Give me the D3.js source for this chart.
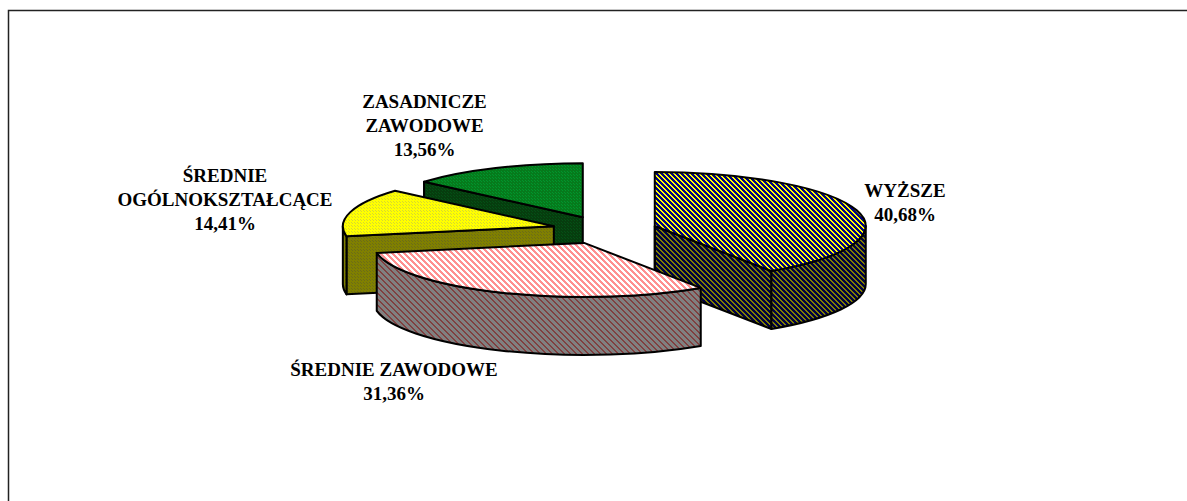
<!DOCTYPE html>
<html><head><meta charset="utf-8">
<script src="https://cdn.jsdelivr.net/npm/d3@7"></script>
<style>html,body{margin:0;background:#fff}svg{display:block}text{font-family:"Liberation Serif",serif;font-weight:bold;font-size:19px;fill:#000}</style>
</head><body><div id="c"></div>
<script>
const categories = ["WYŻSZE","ŚREDNIE ZAWODOWE","ŚREDNIE OGÓLNOKSZTAŁCĄCE","ZASADNICZE ZAWODOWE"];
const values = [40.68,31.36,14.41,13.56];
const labelLines = [["WYŻSZE"],["ŚREDNIE ZAWODOWE"],["ŚREDNIE","OGÓLNOKSZTAŁCĄCE"],["ZASADNICZE","ZAWODOWE"]];
const labelAnchors = [[905,191],[394,370],[225,176],[424.5,102]];
const topColors = [["#000080","#ffff00"],["#ffffff","#ff9090"],["#ffff00","#d8d830"],["#067a1c","#00962e"]];
const sideColors = [["#000040","#808000"],["#808080","#804040"],["#808000","#6c6c18"],["#063d0e","#045016"]];
const stripePeriods = [5,6,0,0];
const topStripeWidths = [2,3,0,0];
const sideStripeWidths = [2,2,0,0];

const W=1187,H=501,cx=604.5,cy=230,rx=211,ry=54,depth=58,explodeX=52.5,explodeY=14,lh=24;
const svg=d3.select("#c").append("svg").attr("width",W).attr("height",H);
const defs=svg.append("defs");
function pat(id,[a,b],period,sw){
  const s=period||3;
  const p=defs.append("pattern").attr("id",id).attr("patternUnits","userSpaceOnUse").attr("width",s).attr("height",s);
  p.append("rect").attr("width",s).attr("height",s).attr("fill",a);
  const px=period
    ? d3.range(s).flatMap(y=>d3.range(sw).map(k=>[(y+k)%s,y]))
    : [[0,0],[1,1]];
  p.selectAll("rect.d").data(px).join("rect").attr("class","d")
    .attr("x",d=>d[0]).attr("y",d=>d[1]).attr("width",1).attr("height",1)
    .attr("fill",b).attr("shape-rendering","crispEdges");
}
categories.forEach((c,i)=>{pat("t"+i,topColors[i],stripePeriods[i],topStripeWidths[i]);pat("s"+i,sideColors[i],stripePeriods[i],sideStripeWidths[i]);});

const slices=d3.pie().sort(null).startAngle(0).endAngle(2*Math.PI)(values).map((d,i)=>{
  const m=(d.startAngle+d.endAngle)/2;
  return {...d,i,ox:cx+explodeX*Math.sin(m),oy:cy-explodeY*Math.cos(m)};
});
const pt=(s,a,dy=0)=>[s.ox+rx*Math.sin(a),s.oy-ry*Math.cos(a)+dy];
const arcTo=(p,a0,a1)=>`A${rx},${ry} 0 ${Math.abs(a1-a0)>Math.PI?1:0} ${a1>a0?1:0} ${p[0]},${p[1]}`;
const style=sel=>sel.attr("stroke","#000").attr("stroke-width",2).attr("stroke-linejoin","round");

// frame: only the top and left rules reach the picture
svg.append("path").attr("d",`M${W},10.5H8.5V${H}`).attr("fill","none").attr("stroke","#222").attr("stroke-width",1.5);

const g=svg.selectAll("g.slice").data(slices.slice().sort((a,b)=>a.oy-b.oy)).join("g").attr("class","slice");
g.each(function(s){
  const gg=d3.select(this), fillS=`url(#s${s.i})`, fillT=`url(#t${s.i})`;
  const apex=[s.ox,s.oy];
  const face=a=>{const p=pt(s,a),q=pt(s,a,depth);
    style(gg.append("path").attr("fill",fillS).attr("d",`M${apex}L${p}L${q}L${s.ox},${s.oy+depth}Z`));};
  if(Math.sin(s.startAngle)<-1e-6) face(s.startAngle);
  if(Math.sin(s.endAngle)>1e-6) face(s.endAngle);
  if(s.startAngle<1e-6) style(gg.append("path").attr("fill","none").attr("d",`M${apex}V${s.oy+depth}`));
  const a0=Math.max(s.startAngle,Math.PI/2),a1=Math.min(s.endAngle,3*Math.PI/2);
  if(a1>a0){
    const p0=pt(s,a0),p1=pt(s,a1),q0=pt(s,a0,depth),q1=pt(s,a1,depth);
    style(gg.append("path").attr("fill",fillS).attr("d",`M${p0}${arcTo(p1,a0,a1)}L${q1}${arcTo(q0,a1,a0)}Z`));
  }
  const p0=pt(s,s.startAngle),p1=pt(s,s.endAngle);
  style(gg.append("path").attr("fill",fillT).attr("d",`M${apex}L${p0}${arcTo(p1,s.startAngle,s.endAngle)}Z`));
});

const fmt=v=>d3.format(".2f")(v).replace(".",",")+"%";
categories.forEach((c,i)=>{
  const lines=[...labelLines[i],fmt(values[i])];
  const t=svg.append("text").attr("text-anchor","middle").attr("x",labelAnchors[i][0]).attr("y",labelAnchors[i][1]+6);
  lines.forEach((l,j)=>t.append("tspan").attr("x",labelAnchors[i][0]).attr("dy",j?lh:0).text(l));
});
</script></body></html>
